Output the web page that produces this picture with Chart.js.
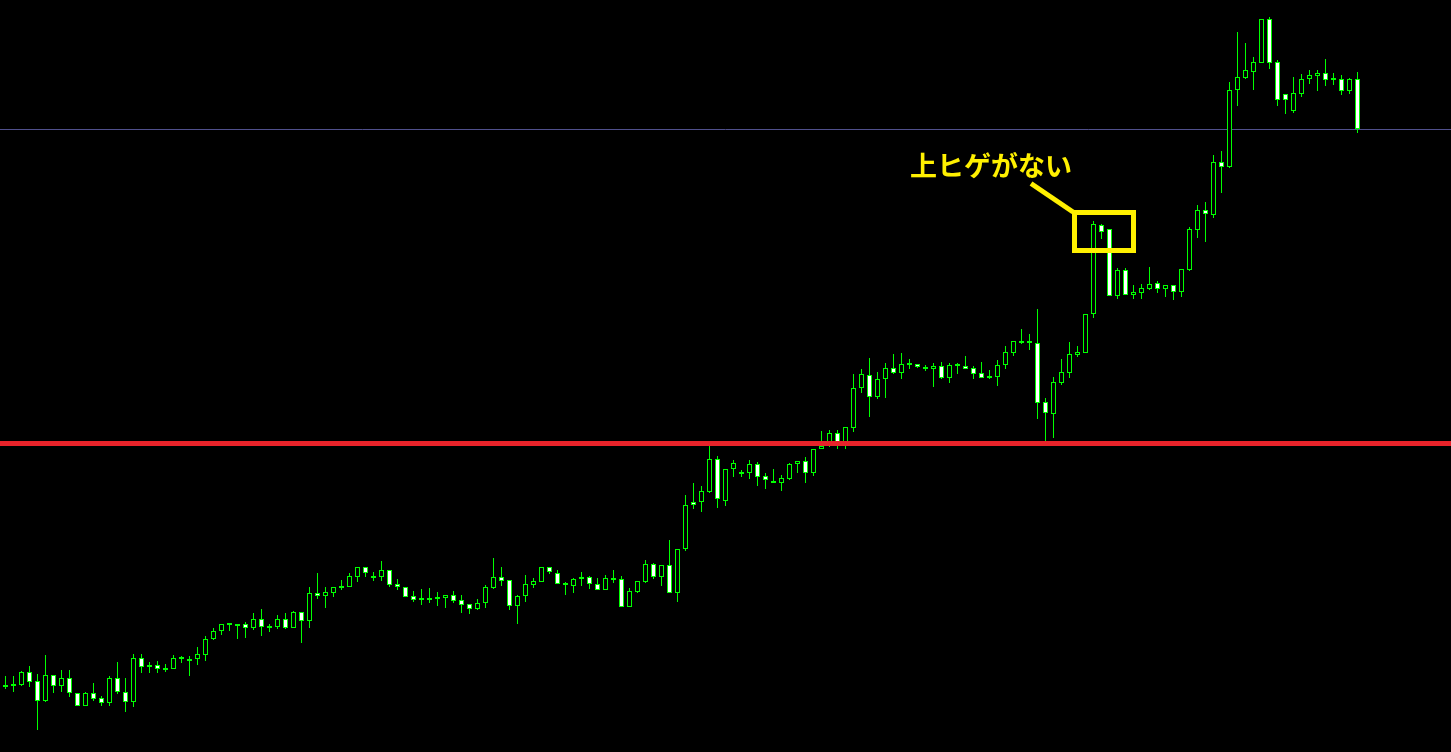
<!DOCTYPE html>
<html>
<head>
<meta charset="utf-8">
<script src="https://cdn.jsdelivr.net/npm/chart.js@4.4.1/dist/chart.umd.min.js"></script>
<style>
  html, body { margin: 0; padding: 0; background: #000; overflow: hidden; }
  #wrap { position: relative; width: 1451px; height: 752px; }
  #memo {
    position: absolute; left: 910px; top: 151px;
    font-family: "Noto Sans CJK JP", sans-serif; font-weight: bold;
    font-size: 27px; line-height: 27px; color: #fff000; white-space: nowrap;
  }
</style>
</head>
<body>
<div id="wrap">
  <canvas id="myChart" width="1451" height="752"></canvas>
  <div id="memo">上ヒゲがない</div>
</div>
<script>
// OHLC per bar (chart units)
const openP = [67,68,67,80,71,51,77,66,74,59, 46,59,54,49,74,60,50,94,87,87,
  84,83,95,91,93,97,113,121,129,128, 128,124,133,126,125,133,124,140,131,159,
  156,159,166,165,175,185,176,175,182,168, 165,156,154,154,155,154,157,152,148,143,
  149,164,175,172,146,156,167,170,185,179, 169,166,173,175,168,162,174,173,145,160,
  170,188,175,187,159,203,250,250,260,293, 251,283,280,279,288,276,271,269,273,288,
  291,279,303,306,319,306,324,364,377,355, 373,384,379,389,388,385,383,386,374,388,
  386,384,379,376,375,387,399,411,411,409, 350,338,369,379,397,399,438,527,523,456,
  482,457,459,463,469,463,467,460,482,522, 542,537,590,585,662,674,680,689,733,690,
  658,641,658,673,676,679,674,673,661,673];
const highP = [76,76,81,86,78,97,77,82,82,59, 60,69,56,76,90,74,98,98,90,91,
  88,97,96,96,105,116,124,128,129,128, 130,139,143,128,137,139,141,140,165,179,
  165,165,172,179,185,185,180,191,182,173, 165,161,163,164,160,157,161,157,148,153,
  167,194,185,172,157,177,174,185,185,182, 170,174,180,176,174,177,182,176,164,171,
  192,189,187,212,203,257,269,266,306,296, 283,292,282,292,290,279,283,277,289,291,
  295,303,321,322,322,325,378,383,394,380, 389,398,399,393,388,387,389,390,389,389,
  396,386,390,382,392,406,411,423,418,443, 354,375,393,410,406,438,531,528,523,484,
  484,467,468,485,471,467,467,483,525,547, 550,597,601,670,720,709,695,733,735,692,
  658,675,678,682,682,693,679,677,674,680];
const lowP = [63,60,66,65,22,50,59,60,55,46, 46,51,46,46,58,40,45,79,79,79,
  80,83,89,76,87,91,112,117,121,113, 114,122,116,120,123,123,124,109,124,153,
  144,155,162,165,170,175,171,171,165,162, 155,150,147,149,146,144,149,139,138,142,
  144,163,166,142,128,150,164,170,178,168, 157,159,166,163,162,162,169,145,145,159,
  169,173,166,159,150,201,243,240,259,244, 246,275,275,273,266,263,269,261,272,279,
  269,276,303,305,303,303,320,359,335,353, 354,378,373,383,384,381,365,373,369,378,
  383,373,374,373,366,383,396,408,402,333, 311,314,367,374,395,399,434,513,456,453,
  457,453,453,462,459,455,452,455,481,514, 510,534,559,584,646,673,662,689,683,646,
  638,639,655,668,661,666,667,657,658,619];
const closeP = [65,66,80,70,51,77,66,74,59,46, 59,53,49,74,60,50,94,85,85,83,
  82,94,93,93,98,113,121,128,127,126, 124,133,125,124,133,124,140,131,159,156,
  160,165,164,176,185,179,174,182,167,165, 155,152,152,152,153,157,151,147,143,149,
  165,175,171,146,156,168,171,185,180,168, 167,173,175,168,162,174,172,145,161,171,
  188,175,187,159,203,247,247,261,293,253, 283,289,278,288,275,272,269,274,288,291,
  279,303,306,319,306,325,364,378,355,373, 384,379,388,387,385,383,386,374,387,386,
  383,378,374,374,387,400,411,409,409,349, 339,370,380,398,400,438,528,520,456,482,
  457,460,464,468,463,467,460,483,523,542, 538,590,585,662,675,682,690,733,689,652,
  652,659,673,677,679,672,672,661,673,623];

// horizontal levels
const bidLine = 622.5;
const redLine = 308.5;

// callout (bar index / price units)
const boxLeft = 133.625, boxRight = 141, boxTop = 539.5, boxBottom = 501.5;
const leader = [{ x: 128.19, y: 568.5 }, { x: 133.44, y: 540 }];

const xMin = -0.6875, xMax = 180.6875;

const wickData = openP.map((o, i) => ({ x: i, y: [lowP[i], highP[i]] }));
const bodyData = openP.map((o, i) => ({ x: i, y: [o, closeP[i]] }));
const bodyFill = openP.map((o, i) => closeP[i] < o ? '#ffffff' : '#000000');

const green = '#00ff00';
const yellow = '#fff000';

new Chart(document.getElementById('myChart'), {
  type: 'bar',
  data: {
    datasets: [
      {
        type: 'line', order: 6,
        data: [{ x: xMin, y: bidLine }, { x: xMax, y: bidLine }],
        borderColor: '#50508c', borderWidth: 1, pointRadius: 0
      },
      {
        type: 'bar', order: 4, grouped: false,
        data: wickData, backgroundColor: green,
        borderWidth: 0, barThickness: 1, inflateAmount: 0
      },
      {
        type: 'bar', order: 3, grouped: false,
        data: bodyData, backgroundColor: bodyFill,
        borderColor: green, borderWidth: 1, borderSkipped: false,
        barThickness: 5, inflateAmount: 0
      },
      {
        type: 'line', order: 2,
        data: [{ x: xMin, y: redLine }, { x: xMax, y: redLine }],
        borderColor: '#e8232a', borderWidth: 5, pointRadius: 0
      },
      {
        type: 'line', order: 1,
        data: [
          { x: boxLeft, y: boxTop }, { x: boxRight, y: boxTop },
          { x: boxRight, y: boxBottom }, { x: boxLeft, y: boxBottom },
          { x: boxLeft, y: boxTop }
        ],
        borderColor: yellow, borderWidth: 5, pointRadius: 0,
        borderJoinStyle: 'miter', borderCapStyle: 'square'
      },
      {
        type: 'line', order: 1,
        data: leader,
        borderColor: yellow, borderWidth: 5, pointRadius: 0
      }
    ]
  },
  options: {
    responsive: false,
    animation: false,
    devicePixelRatio: 1,
    events: [],
    layout: { padding: 0 },
    plugins: { legend: { display: false }, tooltip: { enabled: false } },
    scales: {
      x: { type: 'linear', min: xMin, max: xMax, offset: false, display: false },
      y: { type: 'linear', min: 0, max: 752, display: false }
    }
  }
});
</script>
</body>
</html>
